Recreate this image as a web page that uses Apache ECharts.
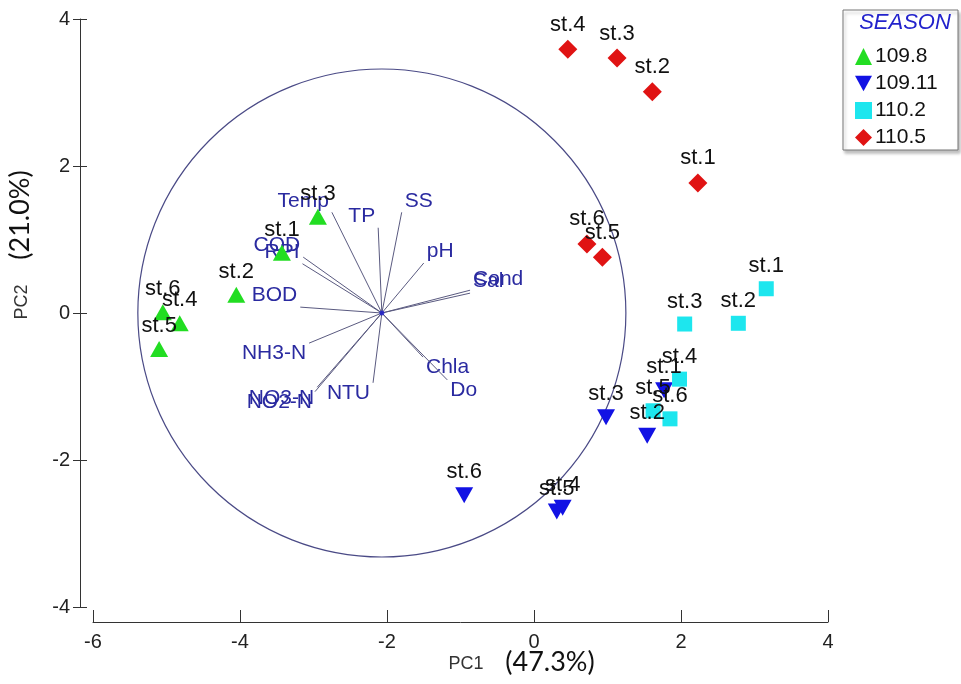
<!DOCTYPE html>
<html>
<head>
<meta charset="utf-8">
<script src="https://cdn.jsdelivr.net/npm/echarts@6/dist/echarts.min.js"></script>
<style>
  html, body { margin: 0; padding: 0; background: #ffffff; }
  #chart { width: 961px; height: 684px; }
</style>
</head>
<body>
<div id="chart"></div>
<script>
// PCA biplot of water-quality samples by season (PC1 vs PC2)

const seasons = ['109.8', '109.11', '110.2', '110.5'];
const stations = ['st.1', 'st.2', 'st.3', 'st.4', 'st.5', 'st.6'];

// sample scores, station order st.1 .. st.6
const pc1_1098  = [-3.43, -4.05, -2.94, -4.82, -5.10, -5.05];
const pc2_1098  = [ 0.82,  0.25,  1.31, -0.14, -0.49,  0.01];
const pc1_10911 = [ 1.77,  1.54,  0.98,  0.39,  0.31, -0.95];
const pc2_10911 = [-1.05, -1.67, -1.42, -2.65, -2.70, -2.48];
const pc1_1102  = [ 3.16,  2.78,  2.05,  1.98,  1.62,  1.85];
const pc2_1102  = [ 0.33, -0.14, -0.15, -0.90, -1.33, -1.44];
const pc1_1105  = [ 2.23,  1.61,  1.13,  0.46,  0.93,  0.72];
const pc2_1105  = [ 1.77,  3.01,  3.47,  3.59,  0.76,  0.94];

// variable vectors (relative to the vector origin)
const varNames = ['Temp', 'TP', 'SS', 'pH', 'Cond', 'Sal', 'COD', 'RPI', 'BOD',
                  'NH3-N', 'NO3-N', 'NO2-N', 'NTU', 'Chla', 'Do'];
const varPC1 = [-0.68, -0.05, 0.27, 0.57, 1.20, 1.20, -1.07, -1.08, -1.11,
                -0.99, -0.88, -0.91, -0.12, 0.56, 0.89];
const varPC2 = [ 1.37,  1.16, 1.37, 0.68, 0.31, 0.27,  0.76,  0.67,  0.08,
                -0.41, -1.01, -1.07, -0.95, -0.60, -0.91];

const vectorOrigin = [-2.07, 0.0];
const circleRadius = 3.32;

const xTicks = { min: -6, max: 4, interval: 2 };
const yTicks = { min: -4, max: 4, interval: 2 };

const colors = ['#22dd22', '#1212e4', '#1de6ee', '#e01313'];
const symbols = [
  'triangle',
  'path://M0,0 L10,0 L5,9 Z',
  'rect',
  'diamond'
];
const symbolSizes = [[18, 16], [18, 16], [15, 15], [19, 19]];

const scoreX = [pc1_1098, pc1_10911, pc1_1102, pc1_1105];
const scoreY = [pc2_1098, pc2_10911, pc2_1102, pc2_1105];

const FONT = '"Liberation Sans", Arial, sans-serif';

const scatterSeries = seasons.map((s, i) => ({
  name: s,
  type: 'scatter',
  symbol: symbols[i],
  symbolSize: symbolSizes[i],
  itemStyle: { color: colors[i], opacity: 1 },
  data: stations.map((st, j) => ({ value: [scoreX[i][j], scoreY[i][j]], name: st })),
  label: {
    show: true,
    position: 'top',
    distance: 4,
    formatter: p => p.name,
    color: '#111111',
    fontFamily: FONT,
    fontSize: 22
  },
  z: 5
}));

const circleSeries = {
  type: 'custom',
  coordinateSystem: 'cartesian2d',
  silent: true,
  z: 2,
  encode: { x: 0, y: 1 },
  data: [[vectorOrigin[0], vectorOrigin[1], circleRadius]],
  renderItem: (params, api) => {
    const c = api.coord([api.value(0), api.value(1)]);
    const s = api.size([api.value(2), api.value(2)]);
    return {
      type: 'circle',
      shape: { cx: c[0], cy: c[1], r: s[0] },
      style: { fill: 'none', stroke: '#4a4a86', lineWidth: 1.2 }
    };
  }
};

const vectorSeries = {
  type: 'custom',
  coordinateSystem: 'cartesian2d',
  silent: true,
  z: 3,
  encode: { x: 0, y: 1 },
  data: varNames.map((n, i) => [vectorOrigin[0] + varPC1[i], vectorOrigin[1] + varPC2[i]]),
  renderItem: (params, api) => {
    const o = api.coord(vectorOrigin);
    const e = api.coord([api.value(0), api.value(1)]);
    const dx = varPC1[params.dataIndex];
    const dy = varPC2[params.dataIndex];
    const hAlign = dx < 0 ? 'right' : 'left';
    const vAlign = dy > 0 ? 'bottom' : 'top';
    const tx = e[0] + (dx < 0 ? -3 : 3);
    const ty = e[1] + (dy > 0 ? -1 : 0);
    return {
      type: 'group',
      children: [
        {
          type: 'line',
          shape: { x1: o[0], y1: o[1], x2: e[0], y2: e[1] },
          style: { stroke: '#5a5a80', lineWidth: 1 }
        },
        {
          type: 'text',
          x: tx,
          y: ty,
          style: {
            text: varNames[params.dataIndex],
            fill: '#2a2aa0',
            font: '21px ' + FONT,
            align: hAlign,
            verticalAlign: vAlign,
            textAlign: hAlign,
            textVerticalAlign: vAlign
          }
        }
      ]
    };
  }
};

const originSeries = {
  type: 'scatter',
  silent: true,
  symbol: 'circle',
  symbolSize: 5,
  itemStyle: { color: '#1a1ad0' },
  data: [vectorOrigin],
  z: 4
};

const chart = echarts.init(document.getElementById('chart'), null, { renderer: 'canvas' });

chart.setOption({
  animation: false,
  backgroundColor: '#ffffff',
  grid: { left: 93, right: 133, top: 19, bottom: 77 },
  xAxis: {
    type: 'value',
    min: xTicks.min, max: xTicks.max, interval: xTicks.interval,
    offset: 15,
    axisLine: { show: true, onZero: false, lineStyle: { color: '#333333', width: 1 } },
    axisTick: { show: true, inside: true, length: 12, lineStyle: { color: '#333333' } },
    axisLabel: { color: '#222222', fontFamily: FONT, fontSize: 20, margin: 10 },
    splitLine: { show: false }
  },
  yAxis: [
    {
      type: 'value',
      min: yTicks.min, max: yTicks.max, interval: yTicks.interval,
      offset: 13,
      axisLine: { show: true, onZero: false, lineStyle: { color: '#333333', width: 1 } },
      axisTick: { show: true, inside: false, length: 7, lineStyle: { color: '#333333' } },
      axisLabel: { color: '#222222', fontFamily: FONT, fontSize: 20, margin: 10 },
      splitLine: { show: false }
    },
    {
      type: 'value',
      position: 'left',
      min: yTicks.min, max: yTicks.max, interval: yTicks.interval,
      offset: 13,
      axisLine: { show: false, onZero: false },
      axisTick: { show: true, inside: true, length: 7, lineStyle: { color: '#333333' } },
      axisLabel: { show: false },
      splitLine: { show: false }
    }
  ],
  legend: {
    orient: 'vertical',
    left: 850,
    top: 41,
    itemGap: 6,
    itemWidth: 17,
    itemHeight: 17,
    data: seasons,
    textStyle: { color: '#111111', fontFamily: FONT, fontSize: 21, padding: [0, 0, 0, -2] },
    z: 6
  },
  graphic: [
    {
      type: 'rect',
      shape: { x: 843, y: 10, width: 115, height: 140 },
      style: {
        fill: '#ffffff', stroke: '#777777', lineWidth: 1,
        shadowColor: 'rgba(0,0,0,0.25)', shadowOffsetX: 2, shadowOffsetY: 3, shadowBlur: 3
      },
      silent: true,
      z: 1
    },
    {
      type: 'text',
      x: 905, y: 23,
      style: {
        text: 'SEASON', fill: '#2222cc',
        font: 'italic 22px ' + FONT,
        align: 'center', verticalAlign: 'middle',
        textAlign: 'center', textVerticalAlign: 'middle'
      },
      silent: true,
      z: 2
    },
    {
      type: 'text',
      x: 466, y: 664,
      style: {
        text: 'PC1', fill: '#333333', font: '18px ' + FONT,
        align: 'center', verticalAlign: 'middle',
        textAlign: 'center', textVerticalAlign: 'middle'
      },
      silent: true
    },
    {
      type: 'text',
      x: 550, y: 662,
      style: {
        text: '(47.3%)', fill: '#111111', font: '27px Lato, "Open Sans", sans-serif',
        align: 'center', verticalAlign: 'middle',
        textAlign: 'center', textVerticalAlign: 'middle'
      },
      silent: true
    },
    {
      type: 'text',
      x: 22, y: 302,
      rotation: Math.PI / 2,
      style: {
        text: 'PC2', fill: '#333333', font: '18px ' + FONT,
        align: 'center', verticalAlign: 'middle',
        textAlign: 'center', textVerticalAlign: 'middle'
      },
      silent: true
    },
    {
      type: 'text',
      x: 20, y: 215,
      rotation: Math.PI / 2,
      style: {
        text: '(21.0%)', fill: '#111111', font: '27px Lato, "Open Sans", sans-serif',
        align: 'center', verticalAlign: 'middle',
        textAlign: 'center', textVerticalAlign: 'middle'
      },
      silent: true
    }
  ],
  series: [circleSeries, vectorSeries, originSeries].concat(scatterSeries)
});
</script>
</body>
</html>
